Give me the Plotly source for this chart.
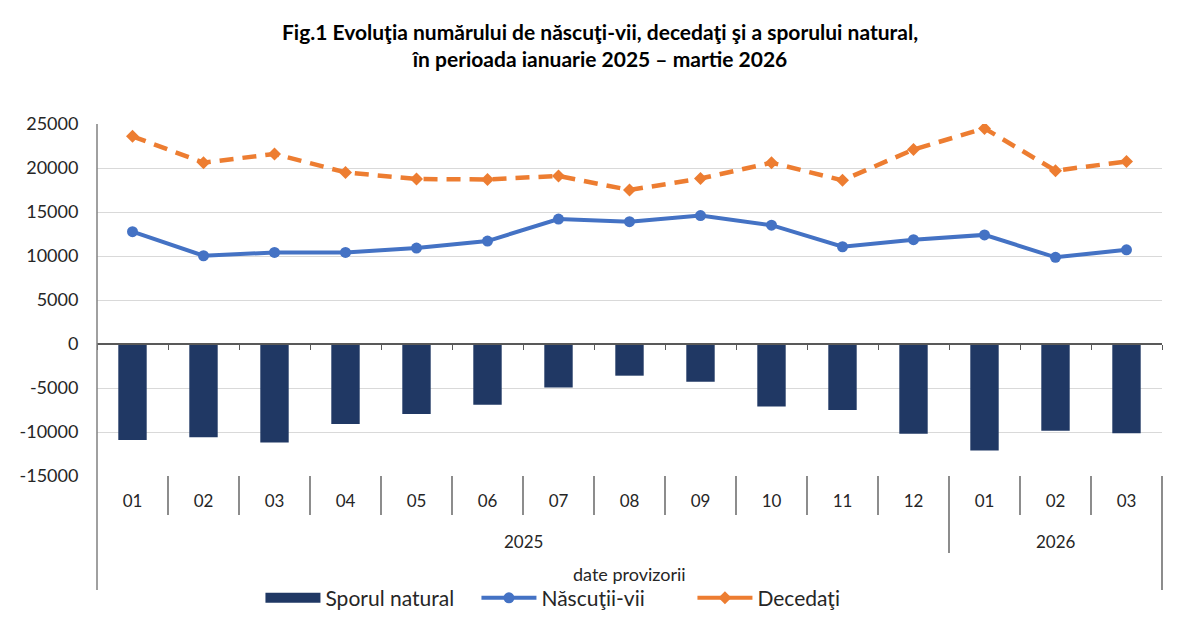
import plotly.graph_objects as go

months = ["01", "02", "03", "04", "05", "06", "07", "08", "09", "10", "11", "12", "01", "02", "03"]
years = ["2025"] * 12 + ["2026"] * 3
births = [12760, 10030, 10400, 10400, 10900, 11700, 14200, 13900, 14600, 13500, 11050, 11850, 12400, 9850, 10700]
deaths = [23600, 20600, 21600, 19500, 18750, 18700, 19100, 17500, 18800, 20600, 18600, 22100, 24500, 19700, 20750]
natural = [-10900, -10600, -11200, -9100, -7950, -6900, -4950, -3600, -4300, -7100, -7500, -10200, -12100, -9850, -10150]
y_ticks = [-15000, -10000, -5000, 0, 5000, 10000, 15000, 20000, 25000]

cats = [f"{y}-{m}" for y, m in zip(years, months)]

FONT = "Lato"
AXIS_DARK = "#595959"
NAVY = "#203864"
BLUE = "#4472C4"
ORANGE = "#ED7D31"

fig = go.Figure()
fig.add_trace(go.Bar(x=cats, y=natural, name="Sporul natural", marker=dict(color=NAVY, line=dict(width=0)),
                     xaxis="x2", yaxis="y", showlegend=False))
# legend entry for the bars (wide rectangle like the original)
fig.add_trace(go.Scatter(x=[None], y=[None], name="Sporul natural", mode="lines",
                         line=dict(color=NAVY, width=15), showlegend=True))
fig.add_trace(go.Scatter(x=cats, y=births, name="Născuţii-vii", mode="lines+markers",
                         line=dict(color=BLUE, width=4), marker=dict(symbol="circle", size=11, color=BLUE)))
fig.add_trace(go.Scatter(x=cats, y=deaths, name="Decedaţi", mode="lines+markers", showlegend=False,
                         line=dict(color=ORANGE, width=4.5, dash="14px,9px"),
                         marker=dict(symbol="diamond", size=10, color=ORANGE)))
fig.add_trace(go.Scatter(x=[None], y=[None], name="Decedaţi", mode="lines+markers",
                         line=dict(color=ORANGE, width=4), marker=dict(symbol="diamond", size=10, color=ORANGE)))

n = len(cats)
shapes = []
for i in range(n - 1):
    new_group = years[i] != years[i + 1]
    shapes.append(dict(type="line", xref="x", yref="paper", x0=i + 0.5, x1=i + 0.5, y0=0,
                       y1=-0.219 if new_group else -0.111, line=dict(color="#404040", width=1.2)))
shapes.append(dict(type="line", xref="paper", yref="paper", x0=0, x1=0, y0=1, y1=-0.324,
                   line=dict(color="#808080", width=1.5)))
shapes.append(dict(type="line", xref="paper", yref="paper", x0=1, x1=1, y0=0, y1=-0.324,
                   line=dict(color="#404040", width=1.2)))

annotations = []
for yr in sorted(set(years)):
    idx = [i for i, v in enumerate(years) if v == yr]
    annotations.append(dict(x=(idx[0] + idx[-1]) / 2, xref="x", y=-0.185, yref="paper", text=yr,
                            showarrow=False, font=dict(family=FONT, size=17, color="#262626"),
                            xanchor="center", yanchor="middle"))
annotations.append(dict(x=0.5, xref="paper", y=-0.278, yref="paper", text="date provizorii",
                        showarrow=False, font=dict(family=FONT, size=18, color="#262626"),
                        xanchor="center", yanchor="middle"))

fig.update_layout(
    width=1200, height=621,
    margin=dict(l=97, r=38, t=124, b=145, autoexpand=False),
    paper_bgcolor="white", plot_bgcolor="white",
    font=dict(family=FONT, size=16, color="#262626"),
    title=dict(text="<b>Fig.1 Evoluţia numărului de născuţi-vii, decedaţi şi a sporului natural,<br>în perioada ianuarie 2025 – martie 2026</b>",
               x=0.5, xref="container", xanchor="center", y=1 - 40 / 621, yref="container", yanchor="middle",
               font=dict(family=FONT, size=21, color="#000000")),
    bargap=0.6,
    showlegend=True,
    legend=dict(orientation="h", x=0.4577, xanchor="center", y=-0.347, yanchor="middle",
                font=dict(family=FONT, size=21, color="#262626"), itemwidth=55, entrywidth=146,
                bgcolor="rgba(0,0,0,0)", traceorder="normal"),
    xaxis=dict(type="category", categoryarray=cats, categoryorder="array", range=[-0.5, n - 0.5],
               tickvals=cats, ticktext=months, ticks="", showline=False, showgrid=False,
               tickfont=dict(family=FONT, size=17, color="#262626"), ticklabelstandoff=13, fixedrange=True),
    xaxis2=dict(type="category", categoryarray=cats, categoryorder="array", range=[-0.5, n - 0.5],
                overlaying="x", anchor="free", position=0.375, showline=True, linecolor=AXIS_DARK, linewidth=1.5,
                ticks="outside", tickson="boundaries", ticklen=5, tickcolor=AXIS_DARK, tickwidth=1.2,
                showticklabels=False, showgrid=False),
    yaxis=dict(range=[-15000, 25000], tickvals=y_ticks, ticktext=[str(v) for v in y_ticks],
               showgrid=True, gridcolor="#D9D9D9", gridwidth=1, zeroline=False, showline=False,
               ticks="outside", ticklen=14, tickcolor="rgba(0,0,0,0)",
               tickfont=dict(family=FONT, size=18, color="#262626")),
    shapes=shapes,
    annotations=annotations,
)

fig.write_html("out.html")
